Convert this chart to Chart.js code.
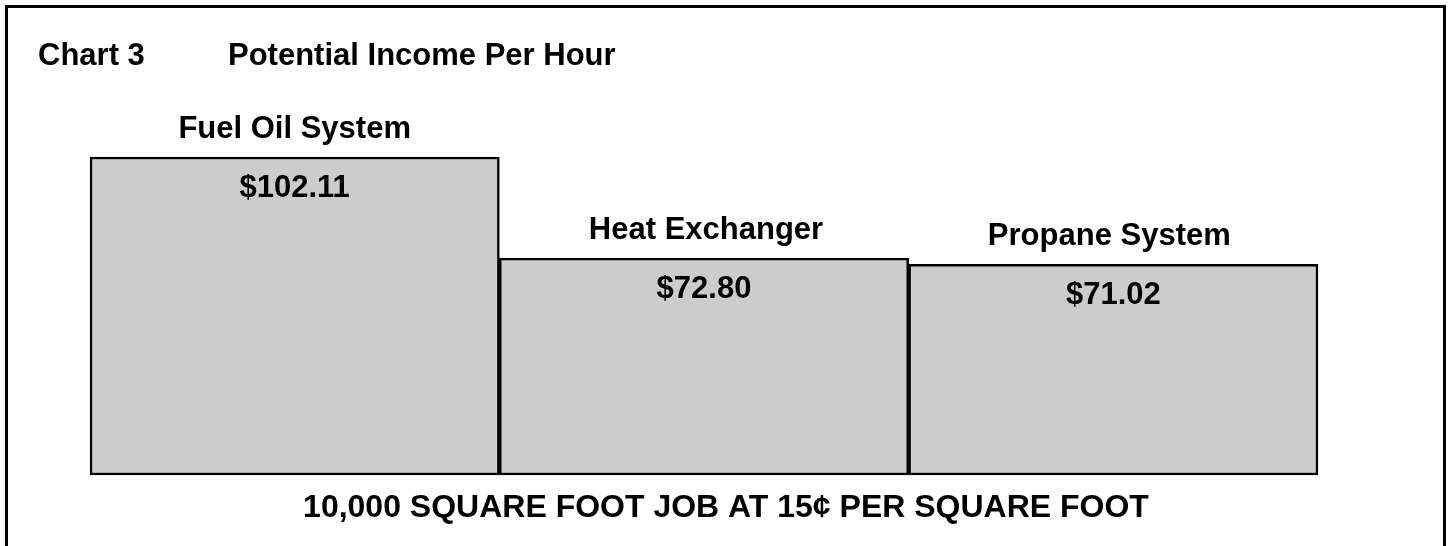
<!DOCTYPE html>
<html>
<head>
<meta charset="utf-8">
<script src="https://cdn.jsdelivr.net/npm/chart.js@4"></script>
<style>
  html, body { margin: 0; padding: 0; background: #ffffff; }
  #wrap { width: 1450px; height: 546px; position: relative; }
</style>
</head>
<body>
<div id="wrap"><canvas id="c" width="1450" height="546"></canvas></div>
<script>
const categories = ["Fuel Oil System", "Heat Exchanger", "Propane System"];
const incomePerHour = [102.11, 72.80, 71.02];
const valueLabels = ["$102.11", "$72.80", "$71.02"];
const chartNumber = "Chart 3";
const chartTitle = "Potential Income Per Hour";
const footnote = "10,000 SQUARE FOOT JOB AT 15\u00A2 PER SQUARE FOOT";
const axisMin = 10;
const axisMax = 102.11;

const FONT = 'bold 31px "Liberation Sans", Arial, sans-serif';
const FOOT_FONT = 'bold 32px "Liberation Sans", Arial, sans-serif';

const decorPlugin = {
  id: 'decor',
  afterDraw(chart) {
    const ctx = chart.ctx;
    const meta = chart.getDatasetMeta(0);
    ctx.save();
    // frame (top, left, right)
    ctx.strokeStyle = '#000';
    ctx.lineWidth = 3;
    ctx.beginPath();
    ctx.moveTo(6.5, 546);
    ctx.lineTo(6.5, 6.5);
    ctx.lineTo(1444.5, 6.5);
    ctx.lineTo(1444.5, 546);
    ctx.stroke();

    ctx.fillStyle = '#000';
    ctx.font = FONT;
    ctx.textBaseline = 'middle';
    ctx.textAlign = 'left';
    ctx.fillText(chartNumber, 38, 56);
    ctx.fillText(chartTitle, 228, 56);

    ctx.textAlign = 'center';
    const labelDx = [0, 2, -4];
    meta.data.forEach((bar, i) => {
      ctx.fillText(categories[i], bar.x + labelDx[i], bar.y - 28);
      ctx.fillText(valueLabels[i], bar.x, bar.y + 31);
    });
    ctx.font = FOOT_FONT;
    ctx.fillText(footnote, 726, 508);
    ctx.restore();
  }
};

new Chart(document.getElementById('c'), {
  type: 'bar',
  data: {
    labels: categories,
    datasets: [{
      data: incomePerHour,
      base: axisMin,
      backgroundColor: '#cccccc',
      borderColor: '#000000',
      borderWidth: 2.5,
      borderSkipped: false,
      clip: false,
      categoryPercentage: 1.0,
      barPercentage: 1.0
    }]
  },
  options: {
    responsive: false,
    animation: false,
    layout: { padding: { left: 90, right: 132, top: 157, bottom: 71 } },
    plugins: { legend: { display: false }, tooltip: { enabled: false }, title: { display: false } },
    scales: {
      x: { display: false },
      y: { display: false, min: axisMin, max: axisMax }
    }
  },
  plugins: [decorPlugin]
});
</script>
</body>
</html>
